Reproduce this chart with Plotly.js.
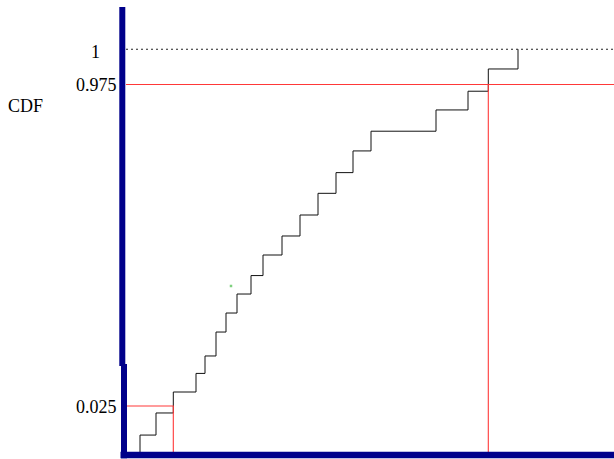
<!DOCTYPE html>
<html>
<head>
<meta charset="utf-8">
<script src="https://cdn.plot.ly/plotly-3.0.1.min.js"></script>
<style>
  html, body { margin: 0; padding: 0; background: #fff; }
  #chart { width: 614px; height: 459px; }
</style>
</head>
<body>
<div id="chart"></div>
<script>
// Empirical CDF of the resampled statistic (step function), broken y axis.
const startX = 14;                 // first observation: CDF starts at 0 here
const jumpX = [14, 30, 47.3, 70, 79, 90, 100, 111, 125, 137, 156, 174, 192, 210, 227, 245, 310, 342, 362.3, 392];
const cdfLevels = [0.0092, 0.0212, 0.0326, 0.0427, 0.7822, 0.7992, 0.8127, 0.8262, 0.8393, 0.8539,
                   0.8674, 0.8823, 0.8977, 0.9124, 0.9278, 0.9418, 0.9569, 0.9702, 0.9860, 1.0];

// Percentile cut-offs and where they fall on the x axis
const lowerProb = 0.025;
const upperProb = 0.975;
const lowerCut = 47.3;
const upperCut = 362.3;

// Tick labels shown on the CDF axis
const tickValues = [1, 0.975, 0.025];
const tickLabels = ['1', '0.975', '0.025'];

// Stray point
const dotX = [105];
const dotY = [0.8319];

// Axis extents
const xRange = [0, 488];
const upperRange = [0.7751, 1.0300];   // top segment of the broken axis
const lowerRange = [0, 0.04674];       // bottom segment of the broken axis
const split = 0.1933;                  // paper height of the bottom segment

const stepX = [startX].concat(jumpX);
const stepY = [0].concat(cdfLevels);

const stepLine = { color: '#111', width: 1, shape: 'hv' };
const redLine = { color: '#ff3838', width: 1.1 };

const traces = [
  // CDF step, bottom segment
  { x: stepX, y: stepY, xaxis: 'x', yaxis: 'y2', mode: 'lines', line: stepLine },
  // CDF step, top segment
  { x: stepX, y: stepY, xaxis: 'x', yaxis: 'y', mode: 'lines', line: stepLine },
  // 2.5% reference lines
  { x: [xRange[0], lowerCut, lowerCut], y: [lowerProb, lowerProb, lowerRange[0]],
    xaxis: 'x', yaxis: 'y2', mode: 'lines', line: redLine },
  // 97.5% reference lines (top segment)
  { x: [xRange[0], xRange[1], null, upperCut, upperCut],
    y: [upperProb, upperProb, null, upperProb, upperRange[0]],
    xaxis: 'x', yaxis: 'y', mode: 'lines', line: redLine },
  // 97.5% vertical continued through the bottom segment
  { x: [upperCut, upperCut], y: [lowerRange[0], lowerRange[1]],
    xaxis: 'x', yaxis: 'y2', mode: 'lines', line: redLine },
  // CDF = 1 guide
  { x: [xRange[0], xRange[1]], y: [tickValues[0], tickValues[0]],
    xaxis: 'x', yaxis: 'y', mode: 'lines',
    line: { color: '#222', width: 1, dash: '2px,3px' } },
  // stray green point
  { x: dotX, y: dotY, xaxis: 'x', yaxis: 'y', mode: 'markers',
    marker: { color: '#7fd07f', size: 2.5, symbol: 'square' } }
];

const hidden = { showline: false, showgrid: false, zeroline: false, ticks: '', showticklabels: false, fixedrange: true };

const W = 488, H = 445, L = 126, T = 7;
const px = v => (v - L) / W;          // page x -> paper x
const py = v => (T + H - v) / H;      // page y -> paper y

const navy = '#00008a';
const shapes = [
  // y axis, top segment
  { type: 'rect', xref: 'paper', yref: 'paper', x0: px(119.3), x1: px(125.3), y0: py(366), y1: py(7),
    fillcolor: navy, line: { width: 0 }, layer: 'above' },
  // y axis, bottom segment
  { type: 'rect', xref: 'paper', yref: 'paper', x0: px(121), x1: px(127), y0: py(458.3), y1: py(364),
    fillcolor: navy, line: { width: 0 }, layer: 'above' },
  // x axis
  { type: 'rect', xref: 'paper', yref: 'paper', x0: px(120.5), x1: px(614), y0: py(458.3), y1: py(451.8),
    fillcolor: navy, line: { width: 0 }, layer: 'above' }
];

const labelFont = { family: 'Liberation Serif, Times New Roman, serif', size: 18, color: '#000' };
const annotations = [
  { text: tickLabels[0], x: px(102), xref: 'paper', y: tickValues[0], yref: 'y',
    xanchor: 'right', yanchor: 'middle', yshift: -3, showarrow: false, font: labelFont },
  { text: tickLabels[1], x: px(119), xref: 'paper', y: tickValues[1], yref: 'y',
    xanchor: 'right', yanchor: 'middle', yshift: -1, showarrow: false, font: labelFont },
  { text: tickLabels[2], x: px(119), xref: 'paper', y: tickValues[2], yref: 'y2',
    xanchor: 'right', yanchor: 'middle', yshift: -1, showarrow: false, font: labelFont },
  { text: 'CDF', x: px(6), xref: 'paper', y: py(106.5), yref: 'paper',
    xanchor: 'left', yanchor: 'middle', showarrow: false, font: labelFont }
];

const layout = {
  width: 614, height: 459,
  margin: { l: L, r: 0, t: T, b: 459 - T - H, pad: 0 },
  paper_bgcolor: '#fff', plot_bgcolor: '#fff',
  showlegend: false, hovermode: false,
  xaxis: Object.assign({ range: xRange, anchor: 'y2' }, hidden),
  yaxis: Object.assign({ range: upperRange, domain: [split, 1], anchor: 'x' }, hidden),
  yaxis2: Object.assign({ range: lowerRange, domain: [0, split], anchor: 'x' }, hidden),
  shapes: shapes,
  annotations: annotations
};

Plotly.newPlot('chart', traces, layout, { displayModeBar: false, staticPlot: true });
</script>
</body>
</html>
